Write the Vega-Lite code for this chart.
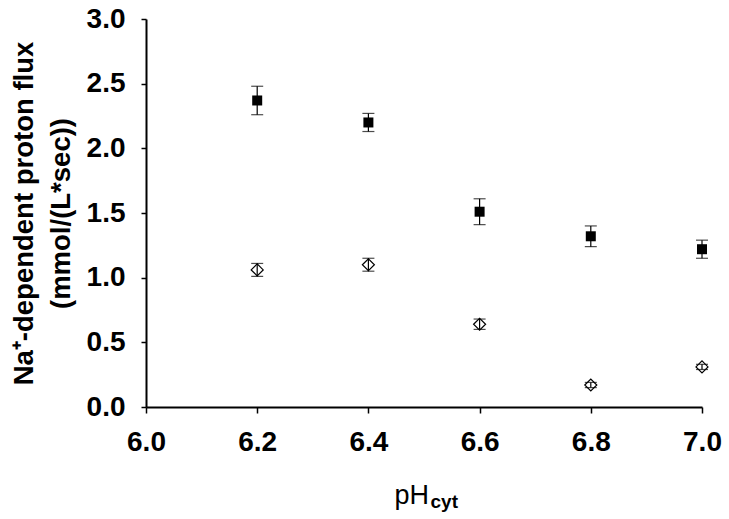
{
  "$schema": "https://vega.github.io/schema/vega-lite/v6.json",
  "width": 556,
  "height": 388,
  "autosize": "none",
  "padding": {"left": 146, "top": 19, "right": 27, "bottom": 112},
  "background": "white",
  "config": {
    "view": {"stroke": null},
    "font": "Liberation Sans"
  },
  "data": {
    "values": [
      {"ph": 6.2, "flux": 2.37, "err": 0.11, "group": "A"},
      {"ph": 6.4, "flux": 2.20, "err": 0.07, "group": "A"},
      {"ph": 6.6, "flux": 1.51, "err": 0.10, "group": "A"},
      {"ph": 6.8, "flux": 1.32, "err": 0.08, "group": "A"},
      {"ph": 7.0, "flux": 1.22, "err": 0.07, "group": "A"},
      {"ph": 6.2, "flux": 1.06, "err": 0.05, "group": "B"},
      {"ph": 6.4, "flux": 1.10, "err": 0.05, "group": "B"},
      {"ph": 6.6, "flux": 0.64, "err": 0.04, "group": "B"},
      {"ph": 6.8, "flux": 0.17, "err": 0.02, "group": "B"},
      {"ph": 7.0, "flux": 0.31, "err": 0.02, "group": "B"}
    ]
  },
  "resolve": {"axis": {"x": "independent"}},
  "layer": [
    {
      "mark": {"type": "errorbar", "color": "black", "thickness": 1.2, "ticks": {"size": 12, "color": "black", "thickness": 1.2}},
      "encoding": {
        "x": {
          "field": "ph", "type": "quantitative",
          "scale": {"domain": [6.0, 7.0], "nice": false, "zero": false},
          "axis": {
            "orient": "bottom",
            "values": [6.0, 6.2, 6.4, 6.6, 6.8, 7.0],
            "format": ".1f",
            "grid": false,
            "labelFlush": false,
            "domainColor": "black", "domainWidth": 2,
            "tickColor": "black", "tickWidth": 1.5, "tickSize": 6,
            "labelFont": "Liberation Sans", "labelFontWeight": "bold", "labelFontSize": 28, "labelColor": "black",
            "labelPadding": 15,
            "title": "pH",
            "titleFont": "Liberation Sans", "titleFontWeight": "normal", "titleFontSize": 27, "titleColor": "black",
            "titleAlign": "left", "titleBaseline": "alphabetic",
            "titleX": 248, "titleY": 96
          }
        },
        "y": {
          "field": "flux", "type": "quantitative",
          "scale": {"domain": [0, 3.0], "nice": false},
          "axis": {
            "values": [0, 0.5, 1.0, 1.5, 2.0, 2.5, 3.0],
            "format": ".1f",
            "grid": false,
            "labelFlush": false,
            "domainColor": "black", "domainWidth": 2,
            "tickColor": "black", "tickWidth": 1.5, "tickSize": 5,
            "labelFont": "Liberation Sans", "labelFontWeight": "bold", "labelFontSize": 28, "labelColor": "black",
            "labelPadding": 16,
            "title": ["Na⁺-dependent proton flux", "(mmol/(L*sec))"],
            "titleFont": "Liberation Sans", "titleFontWeight": "bold", "titleFontSize": 27.5, "titleColor": "black",
            "titleLineHeight": 37,
            "titlePadding": 11
          }
        },
        "yError": {"field": "err"}
      }
    },
    {
      "transform": [{"filter": "datum.group === 'A'"}],
      "mark": {"type": "point", "shape": "square", "filled": true, "color": "black", "size": 100, "opacity": 1},
      "encoding": {
        "x": {"field": "ph", "type": "quantitative",
          "axis": {
            "orient": "bottom",
            "domain": false, "ticks": false, "labels": false, "grid": false,
            "title": "cyt",
            "titleFont": "Liberation Sans", "titleFontWeight": "bold", "titleFontSize": 19, "titleColor": "black",
            "titleAlign": "left", "titleBaseline": "alphabetic",
            "titleX": 284, "titleY": 100
          }
        },
        "y": {"field": "flux", "type": "quantitative"}
      }
    },
    {
      "transform": [{"filter": "datum.group === 'B'"}],
      "mark": {"type": "point", "shape": "diamond", "filled": false, "color": "black", "strokeWidth": 1.2, "size": 144, "opacity": 1},
      "encoding": {
        "x": {"field": "ph", "type": "quantitative", "axis": null},
        "y": {"field": "flux", "type": "quantitative"}
      }
    }
  ]
}
